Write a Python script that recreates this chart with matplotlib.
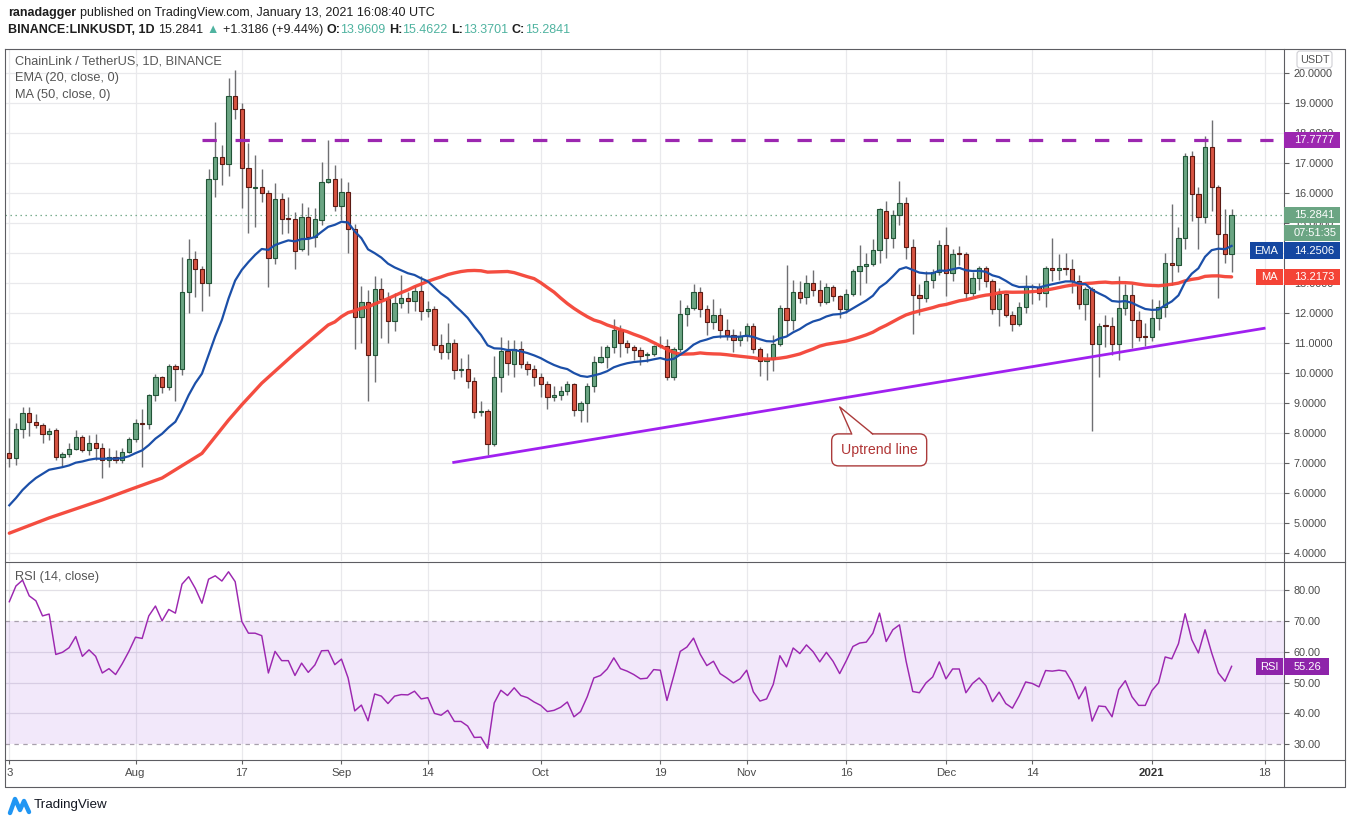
import numpy as np
import pandas as pd
import matplotlib
matplotlib.use('Agg')
import matplotlib.pyplot as plt
from matplotlib.patches import Rectangle, FancyBboxPatch, Polygon

plt.rcParams['font.family'] = ['Liberation Sans', 'DejaVu Sans']
plt.rcParams['lines.scale_dashes'] = False

# ---------------- data ----------------
start_date = '2020-07-13'   # first candle; one candle per day up to 2021-01-13
opens = [7.33, 7.17, 8.13, 8.67, 8.36, 8.26, 7.97, 8.10, 7.22, 7.30,
         7.48, 7.89, 7.44, 7.67, 7.50, 7.11, 7.22, 7.11, 7.39, 7.80,
         8.33, 8.30, 9.28, 9.87, 9.53, 10.24, 10.13, 12.70, 13.80, 13.47,
         13.00, 16.47, 17.20, 16.97, 19.24, 18.80, 16.83, 16.16, 16.20, 16.02,
         13.83, 15.80, 15.16, 15.13, 14.13, 15.20, 14.53, 15.11, 16.37, 16.47,
         15.58, 16.03, 14.80, 11.89, 12.36, 10.60, 12.80, 12.47, 11.73, 12.33,
         12.50, 12.42, 12.73, 12.07, 12.14, 10.93, 10.72, 11.00, 10.11, 10.14,
         9.74, 8.70, 8.74, 7.63, 9.88, 10.73, 10.30, 10.80, 10.30, 10.13,
         9.86, 9.63, 9.22, 9.26, 9.40, 9.63, 8.76, 9.00, 9.58, 10.39,
         10.53, 10.87, 11.43, 11.00, 10.89, 10.76, 10.60, 10.63, 10.93, 10.91,
         9.86, 10.80, 11.97, 12.17, 12.70, 12.13, 11.70, 11.94, 11.44, 11.27,
         11.10, 11.24, 11.58, 10.80, 10.40, 10.47, 10.98, 12.17, 11.78, 12.70,
         12.53, 13.00, 12.76, 12.39, 12.87, 12.56, 12.13, 12.63, 13.40, 13.57,
         13.63, 14.10, 15.42, 14.50, 15.28, 15.67, 14.20, 12.61, 12.50, 13.11,
         13.37, 14.28, 13.33, 13.98, 13.97, 12.67, 13.17, 13.50, 13.06, 12.13,
         12.64, 11.93, 11.63, 12.22, 12.92, 12.87, 12.67, 13.50, 13.43, 13.50,
         13.47, 13.06, 12.30, 12.80, 10.97, 11.58, 11.58, 10.97, 12.17, 12.61,
         11.78, 11.24, 11.22, 11.83, 12.22, 13.67, 13.60, 14.50, 17.24, 15.97,
         15.22, 17.53, 16.20, 14.63, 13.9609]
highs = [8.50, 8.33, 8.89, 8.89, 8.63, 8.33, 8.17, 8.17, 7.39, 7.67,
         8.11, 7.94, 7.94, 7.97, 7.67, 7.50, 7.44, 7.50, 7.89, 8.47,
         8.81, 9.30, 9.98, 9.91, 10.31, 10.31, 13.87, 14.48, 14.08, 13.56,
         16.81, 18.36, 17.61, 19.83, 20.10, 19.00, 17.69, 17.28, 16.80, 16.11,
         16.33, 16.00, 15.87, 15.37, 15.67, 15.53, 15.50, 17.04, 17.78, 16.94,
         16.50, 16.38, 14.98, 12.91, 12.78, 13.24, 13.17, 12.72, 12.67, 13.28,
         12.72, 12.94, 13.24, 12.41, 12.24, 11.30, 11.69, 11.13, 10.50, 10.64,
         9.89, 9.08, 8.80, 10.56, 11.20, 11.11, 11.11, 11.09, 10.41, 10.28,
         10.00, 9.74, 9.56, 9.56, 9.74, 9.67, 9.06, 9.69, 10.56, 10.91,
         10.94, 11.81, 11.61, 11.11, 10.94, 10.89, 10.72, 10.94, 11.24, 11.13,
         10.87, 12.44, 12.28, 12.97, 12.89, 12.28, 12.48, 12.17, 11.80, 11.47,
         11.41, 11.67, 11.67, 10.89, 10.69, 11.28, 12.28, 13.61, 13.11, 13.06,
         13.28, 13.44, 13.11, 13.00, 12.94, 12.61, 12.80, 13.48, 14.28, 14.00,
         14.48, 15.52, 15.74, 15.44, 16.41, 15.87, 14.48, 12.98, 13.42, 13.47,
         14.44, 14.86, 14.13, 14.24, 14.03, 13.36, 13.56, 13.58, 13.13, 12.83,
         12.69, 12.06, 12.36, 13.28, 12.98, 13.02, 13.58, 14.50, 13.97, 14.00,
         13.80, 13.27, 12.87, 12.87, 11.69, 11.94, 11.86, 13.24, 12.98, 12.98,
         12.06, 11.67, 12.47, 12.44, 14.00, 15.64, 14.89, 17.33, 17.42, 16.20,
         17.91, 18.44, 16.28, 15.47, 15.4622]
lows = [6.89, 6.94, 7.83, 7.91, 8.17, 7.67, 7.78, 7.11, 6.89, 7.22,
        7.44, 7.39, 7.28, 7.11, 6.50, 6.89, 7.00, 7.00, 7.33, 7.72,
        6.87, 8.13, 9.09, 9.33, 9.44, 9.06, 9.94, 12.00, 12.53, 12.09,
        12.58, 15.89, 16.28, 16.56, 18.47, 15.50, 14.69, 14.87, 15.72, 12.89,
        13.64, 14.64, 14.69, 13.47, 14.06, 13.94, 14.22, 14.94, 16.33, 15.42,
        15.11, 14.00, 10.82, 11.00, 9.09, 9.72, 11.17, 11.02, 11.42, 12.17,
        12.02, 12.09, 11.76, 11.89, 10.78, 10.47, 10.47, 9.80, 9.87, 9.50,
        8.50, 8.56, 7.28, 7.56, 9.36, 9.94, 9.89, 10.17, 9.94, 9.56,
        9.22, 8.80, 9.09, 9.11, 9.26, 8.56, 8.39, 8.39, 9.36, 10.33,
        10.17, 10.67, 10.53, 10.67, 10.44, 10.28, 10.39, 10.56, 10.83, 9.76,
        9.78, 10.72, 11.58, 12.11, 11.89, 11.26, 11.48, 11.17, 11.11, 10.72,
        10.91, 11.06, 10.69, 9.92, 9.76, 10.06, 10.91, 11.28, 11.44, 12.33,
        12.31, 12.59, 12.24, 12.31, 12.42, 11.83, 12.02, 12.56, 12.61, 13.00,
        13.56, 13.69, 13.83, 14.17, 14.94, 13.80, 11.30, 11.94, 12.36, 12.83,
        13.28, 12.58, 13.06, 13.61, 12.50, 12.58, 12.76, 12.89, 11.98, 11.56,
        11.87, 11.42, 11.56, 12.02, 12.31, 12.44, 12.22, 13.06, 13.11, 13.28,
        12.67, 12.13, 11.78, 8.06, 9.86, 10.89, 10.61, 10.44, 11.93, 10.83,
        11.08, 10.91, 11.06, 11.44, 11.87, 12.94, 13.39, 14.13, 15.06, 14.13,
        15.00, 15.42, 12.50, 13.67, 13.3701]
closes = [7.17, 8.13, 8.67, 8.36, 8.26, 7.97, 8.08, 7.22, 7.30, 7.48,
          7.89, 7.44, 7.67, 7.50, 7.11, 7.22, 7.11, 7.39, 7.80, 8.33,
          8.30, 9.28, 9.87, 9.53, 10.24, 10.13, 12.70, 13.80, 13.47, 13.00,
          16.47, 17.20, 16.97, 19.24, 18.80, 16.83, 16.20, 16.20, 16.02, 13.83,
          15.80, 15.13, 15.13, 14.09, 15.20, 14.53, 15.13, 16.37, 16.47, 15.58,
          16.03, 14.80, 11.89, 12.36, 10.60, 12.80, 12.47, 11.73, 12.33, 12.50,
          12.42, 12.73, 12.07, 12.14, 10.93, 10.72, 11.00, 10.11, 10.14, 9.74,
          8.70, 8.74, 7.63, 9.88, 10.73, 10.33, 10.80, 10.30, 10.13, 9.86,
          9.63, 9.22, 9.27, 9.40, 9.63, 8.76, 9.00, 9.58, 10.39, 10.53,
          10.87, 11.43, 11.00, 10.89, 10.76, 10.59, 10.63, 10.92, 10.91, 9.86,
          10.80, 11.97, 12.17, 12.70, 12.13, 11.70, 11.94, 11.44, 11.27, 11.10,
          11.24, 11.58, 10.80, 10.40, 10.47, 10.98, 12.17, 11.78, 12.70, 12.50,
          13.00, 12.76, 12.39, 12.87, 12.56, 12.13, 12.63, 13.40, 13.57, 13.63,
          14.10, 15.47, 14.50, 15.28, 15.67, 14.20, 12.61, 12.50, 13.09, 13.37,
          14.28, 13.33, 13.97, 13.96, 12.67, 13.17, 13.50, 13.06, 12.13, 12.64,
          11.93, 11.63, 12.22, 12.92, 12.87, 12.67, 13.50, 13.43, 13.50, 13.47,
          13.06, 12.30, 12.80, 10.97, 11.58, 11.56, 10.97, 12.17, 12.61, 11.78,
          11.22, 11.22, 11.83, 12.22, 13.67, 13.60, 14.50, 17.24, 15.97, 15.22,
          17.53, 16.20, 14.63, 13.97, 15.2841]
rsi_vals = [76.2, 81.3, 83.2, 78.1, 76.5, 71.6, 72.2, 59.1, 59.8, 61.3,
            64.9, 58.5, 60.6, 58.5, 53.1, 54.5, 52.6, 56.1, 60.1, 64.7,
            64.3, 71.6, 74.8, 70.0, 73.7, 72.5, 81.9, 84.3, 80.5, 75.7,
            83.5, 84.6, 82.9, 85.9, 82.7, 69.8, 66.0, 66.0, 65.2, 53.1,
            60.1, 57.1, 57.1, 52.3, 56.3, 53.3, 55.7, 60.3, 60.4, 55.8,
            57.6, 51.5, 40.8, 42.7, 37.6, 46.3, 45.6, 43.2, 45.6, 46.1,
            46.0, 47.2, 44.7, 45.1, 40.0, 39.4, 41.0, 37.4, 37.4, 35.9,
            32.2, 32.3, 28.7, 43.4, 47.5, 45.8, 48.3, 45.8, 45.1, 43.7,
            42.6, 40.6, 41.0, 42.0, 43.7, 38.9, 40.6, 45.4, 51.5, 52.3,
            54.4, 58.0, 54.5, 53.7, 52.6, 51.2, 51.4, 54.2, 54.0, 44.2,
            52.0, 60.1, 61.5, 64.4, 59.2, 55.5, 56.9, 52.9, 51.5, 49.9,
            51.2, 54.0, 47.0, 44.0, 44.7, 49.4, 58.7, 55.1, 61.2, 59.4,
            62.2, 60.0, 56.7, 59.8, 56.9, 52.9, 57.1, 61.7, 62.8, 63.1,
            66.0, 72.5, 63.3, 67.1, 68.7, 56.9, 47.1, 46.7, 49.9, 51.8,
            56.7, 51.2, 54.4, 54.4, 46.7, 49.7, 51.5, 49.0, 43.8, 46.9,
            43.2, 41.7, 45.6, 50.2, 49.7, 48.6, 53.9, 53.7, 54.0, 53.7,
            50.1, 44.7, 48.6, 37.5, 42.4, 42.2, 38.9, 47.7, 50.6, 45.4,
            42.6, 42.6, 47.4, 49.9, 58.3, 57.7, 62.6, 72.3, 63.9, 59.6,
            67.1, 59.6, 53.1, 50.4, 55.26]
ema_seed = 5.435                      # EMA(20) value on the day before the first candle
ma50_head_idx = [1, 7, 15, 19, 24, 30, 34, 36, 39, 44, 49]   # MA(50)
ma50_head_val = [4.67, 5.18, 5.78, 6.11, 6.51, 7.33, 8.44, 8.95, 9.67, 10.67, 11.61]
ema_last_label = 14.2506
ma_last_label = 13.2173
resistance = 17.7777
resistance_days = [29.0, 190.2]
trend_days = [66.9, 188.9]
trend_prices = [7.03, 11.50]
callout_day, callout_price = 125.0, 8.88
price_ticks = list(range(4, 21))
rsi_ticks = [30, 40, 50, 60, 70, 80]
time_tick_days = [0, 19, 35, 50, 63, 80, 98, 111, 126, 141, 154, 172, 189]
time_tick_labels = ['3', 'Aug', '17', 'Sep', '14', 'Oct', '19', 'Nov', '16', 'Dec', '14', '2021', '18']
countdown = '07:51:35'

# ---------------- derived series ----------------
n = len(closes)
days = np.arange(n)
o = np.array(opens); c = np.array(closes)
hi = np.array(highs); lo = np.array(lows)
alpha = 2.0 / 21.0
ema = []
e = ema_seed
for v in closes:
    e = e + alpha * (v - e)
    ema.append(e)
ma_roll = pd.Series(closes).rolling(50).mean()
ma_x = [i - 1 for i in ma50_head_idx] + list(range(49, n))
ma_y = ma50_head_val + list(ma_roll.iloc[49:])

# ---------------- figure / axes ----------------
W, H = 1351, 824
fig = plt.figure(figsize=(W / 100, H / 100), dpi=100)
fig.patch.set_facecolor('white')

def add_ax(x0, y0, x1, y1):
    return fig.add_axes([x0 / W, 1 - y1 / H, (x1 - x0) / W, (y1 - y0) / H])

GRID = '#e9e9ec'
AXC = '#4a4a4a'
ax = add_ax(5, 49, 1284, 561)
axr = add_ax(5, 562, 1284, 760)
xl = ((5 - 9.3) / 6.643, (1284 - 9.3) / 6.643)
for a in (ax, axr):
    a.set_xlim(*xl)
    for s in a.spines.values():
        s.set_visible(False)
    a.set_xticks(time_tick_days)
    a.grid(False)
    for d in time_tick_days:
        a.axvline(d, color=GRID, lw=0.9, zorder=0.2)

ax.set_ylim(3.743, 20.81)
axr.set_ylim(24.9, 89.07)

# price panel grid
for p in price_ticks:
    ax.axhline(p, color=GRID, lw=0.9, zorder=0.2)
ax.set_yticks(price_ticks)
# the 14.0000 label sits fully under the EMA badge in the reference
ax.set_yticklabels(['' if p == 14 else '%.4f' % p for p in price_ticks])
ax.yaxis.tick_right()
ax.tick_params(axis='y', length=3.6, width=0.8, color='#606060', pad=3.6,
               labelsize=7.8, labelcolor=AXC)
ax.tick_params(axis='x', length=0, labelbottom=False)

# candles
up = c >= o
UPF, DNF = '#6ba583', '#d75442'
UPE, DNE = '#225437', '#5b1a13'
ax.vlines(days, lo, hi, color='#6f6f72', lw=1.0, zorder=2)
bot = np.minimum(o, c)
hgt = np.maximum(np.abs(c - o), 0.035)
ax.bar(days[up], hgt[up], bottom=bot[up], width=0.64, color=UPF, edgecolor=UPE, lw=0.8, zorder=3)
ax.bar(days[~up], hgt[~up], bottom=bot[~up], width=0.64, color=DNF, edgecolor=DNE, lw=0.8, zorder=3)

# indicators
ax.plot(ma_x, ma_y, color='#f44336', lw=2.4, alpha=0.95, zorder=4, solid_capstyle='round')
ax.plot(days, ema, color='#1b4fa8', lw=1.6, zorder=4.1)
ax.axhline(closes[-1], color='#6ba583', lw=0.9, ls=(0, (1, 2.6)), zorder=1)
ax.plot(resistance_days, [resistance, resistance], color='#9c27b0', lw=2.3,
        ls=(0, (10.3, 13.5)), zorder=4.2)
ax.plot(trend_days, trend_prices, color='#a020f0', lw=2.0, zorder=4.2)

# RSI panel
for r in (40, 50, 60, 80):
    axr.axhline(r, color='#e2e0e6', lw=0.9, zorder=0.2)
axr.axhspan(30, 70, color='#8e3cd6', alpha=0.115, lw=0, zorder=0.5)
for r in (30, 70):
    axr.axhline(r, color='#a8a0ac', lw=0.9, ls=(0, (3.2, 3.2)), zorder=0.6)
axr.plot(days, rsi_vals, color='#9c27b0', lw=1.05, zorder=3)
axr.set_yticks(rsi_ticks)
axr.set_yticklabels(['%.2f' % r for r in rsi_ticks])
axr.yaxis.tick_right()
axr.tick_params(axis='y', length=3.6, width=0.8, color='#606060', pad=3.6,
                labelsize=7.8, labelcolor=AXC)
axr.set_xticklabels(time_tick_labels)
axr.tick_params(axis='x', length=3.0, width=0.8, color='#606060', pad=2.6,
                labelsize=8.2, labelcolor=AXC)
for t, lab in zip(axr.get_xticklabels(), time_tick_labels):
    if lab == '2021':
        t.set_fontweight('bold')
        t.set_color('#333333')

# ---------------- overlay (pixel coords) ----------------
ov = fig.add_axes([0, 0, 1, 1])
ov.set_xlim(0, W)
ov.set_ylim(H, 0)
ov.axis('off')
ov.set_zorder(10)
ov.patch.set_visible(False)

BORDER = '#5d5d62'
ov.plot([5, 1345, 1345, 5, 5], [49, 49, 787, 787, 49], color=BORDER, lw=0.8)
ov.plot([5, 1345], [561.5, 561.5], color=BORDER, lw=0.8)
ov.plot([5, 1345], [760, 760], color=BORDER, lw=0.8)
ov.plot([1284, 1284], [49, 787], color=BORDER, lw=0.8)

def ypix(a, val):
    return H - a.transData.transform((0, val))[1]

def box(x0, x1, yc, color, text, h=16.5, tx=None, ha='left', fs=8.0):
    ov.add_patch(Rectangle((x0, yc - h / 2), x1 - x0, h, facecolor=color, edgecolor='none', zorder=5))
    if tx is None:
        tx = x0 + 10
    ov.text(tx, yc + 0.5, text, color='white', fontsize=fs, ha=ha, va='center', zorder=6)

y_res = ypix(ax, resistance)
box(1284, 1340, y_res, '#9c27b0', '%.4f' % resistance)
y_cl = ypix(ax, closes[-1])
box(1284, 1340, y_cl, '#6ba583', '%.4f' % closes[-1])
box(1284, 1340, y_cl + 18, '#6ba583', countdown)
y_ema = max(ypix(ax, ema[-1]), y_cl + 18 + 17.5)
box(1284, 1340, y_ema, '#1547a1', '%.4f' % ema_last_label)
box(1250, 1283, y_ema, '#1547a1', 'EMA', tx=1266.5, ha='center')
y_ma = ypix(ax, ma_y[-1])
box(1284, 1340, y_ma, '#f44336', '%.4f' % ma_last_label)
box(1256, 1283, y_ma, '#f44336', 'MA', tx=1269.5, ha='center')
y_rsi = ypix(axr, rsi_vals[-1])
box(1284, 1329, y_rsi, '#8e24aa', '%.2f' % rsi_vals[-1])
box(1256, 1283, y_rsi, '#8e24aa', 'RSI', tx=1269.5, ha='center')

# USDT badge
ov.add_patch(FancyBboxPatch((1297, 51), 35, 17, boxstyle='round,pad=0,rounding_size=3',
                            facecolor='white', edgecolor='#cfcfd4', lw=0.8, zorder=5))
ov.text(1314.5, 60, 'USDT', fontsize=7.8, color='#555555', ha='center', va='center', zorder=6)

# callout "Uptrend line"
axp = ax.transData.transform((callout_day, callout_price))
tx0, ty0 = axp[0], H - axp[1]
RED = '#ab3b3b'
ov.add_patch(FancyBboxPatch((tx0 - 8, ty0 + 27), 95, 32, boxstyle='round,pad=0,rounding_size=7',
                            facecolor='white', edgecolor=RED, lw=1.0, zorder=5))
ov.add_patch(Polygon([[tx0, ty0], [tx0 + 12, ty0 + 28.2], [tx0 + 33, ty0 + 28.2]],
                     closed=True, facecolor='white', edgecolor='none', zorder=5.5))
ov.plot([tx0 + 12, tx0, tx0 + 33], [ty0 + 27, ty0, ty0 + 27], color=RED, lw=1.0, zorder=5.6)
ov.text(tx0 + 39.5, ty0 + 43.5, 'Uptrend line', fontsize=10.2, color='#b03535',
        ha='center', va='center', zorder=6)

# legends in chart
LEG = '#555555'
ov.text(15, 61, 'ChainLink / TetherUS, 1D, BINANCE', fontsize=9.2, color=LEG, va='center', zorder=6)
ov.text(15, 78, 'EMA (20, close, 0)', fontsize=9.2, color=LEG, va='center', zorder=6)
ov.text(15, 95, 'MA (50, close, 0)', fontsize=9.2, color=LEG, va='center', zorder=6)
ov.text(15, 577, 'RSI (14, close)', fontsize=9.2, color=LEG, va='center', zorder=6)

# header lines
renderer = fig.canvas.get_renderer()
def rich(x, y, parts):
    for s, kw in parts:
        if s == ' ':
            x += 3.5
            continue
        t = ov.text(x, y, s, va='center', ha='left', fontsize=9.0, zorder=6, **kw)
        x += t.get_window_extent(renderer=renderer).width

DK = '#1e1e1e'
TEAL = '#4fb3a0'
rich(8, 13, [('ranadagger', dict(color=DK, fontweight='bold')), (' ', {}),
             ('published on TradingView.com, January 13, 2021 16:08:40 UTC', dict(color=DK))])
rich(8, 30, [('BINANCE:LINKUSDT, 1D', dict(color=DK, fontweight='bold')), (' ', {}),
             ('%.4f' % closes[-1], dict(color=DK)), (' ', {}),
             ('\u25b2', dict(color=TEAL)), (' ', {}),
             ('+1.3186 (+9.44%)', dict(color=DK)), (' ', {}),
             ('O:', dict(color=DK, fontweight='bold')), ('%.4f' % opens[-1], dict(color=TEAL)), (' ', {}),
             ('H:', dict(color=DK, fontweight='bold')), ('%.4f' % highs[-1], dict(color=TEAL)), (' ', {}),
             ('L:', dict(color=DK, fontweight='bold')), ('%.4f' % lows[-1], dict(color=TEAL)), (' ', {}),
             ('C:', dict(color=DK, fontweight='bold')), ('%.4f' % closes[-1], dict(color=TEAL))])

# TradingView logo
ov.plot([10, 15, 20, 24, 29], [813, 799, 810, 801, 812], color='#2196f3', lw=3.2,
        solid_capstyle='round', solid_joinstyle='round', zorder=6)
ov.text(34, 805, 'TradingView', fontsize=9.6, color='#131722', va='center', zorder=6)

fig.savefig('out.png', dpi=100, facecolor='white')
